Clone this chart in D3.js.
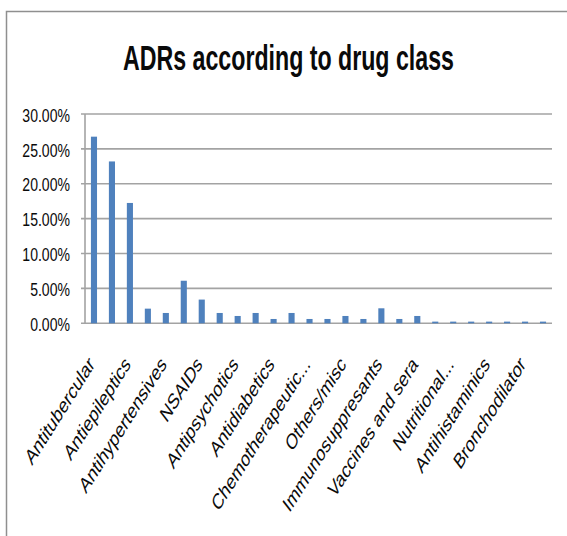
<!DOCTYPE html>
<html>
<head>
<meta charset="utf-8">
<script src="https://cdn.jsdelivr.net/npm/d3@7/dist/d3.min.js"></script>
<style>
  html, body { margin: 0; padding: 0; background: #fff; }
  svg { display: block; }
  text { font-family: "Liberation Sans", Arial, sans-serif; fill: #0a0a0a; }
</style>
</head>
<body>
<svg id="chart" width="567" height="536"></svg>
<script>
// Share of adverse drug reactions per drug class (fraction of all ADRs)
const adrShare = [
  0.2675, 0.2320, 0.1725, 0.0210, 0.0148, 0.0610, 0.0340, 0.0148, 0.0105,
  0.0148, 0.0062, 0.0148, 0.0062, 0.0062, 0.0105, 0.0062, 0.0215, 0.0062,
  0.0105, 0.0024, 0.0024, 0.0024, 0.0024, 0.0024, 0.0024, 0.0024
];

// Axis shows the name of every second class, starting with the first
const classLabels = [
  "Antitubercular", "Antiepileptics", "Antihypertensives", "NSAIDs",
  "Antipsychotics", "Antidiabetics", "Chemotherapeutic...", "Others/misc",
  "Immunosuppresants", "Vaccines and sera", "Nutritional...",
  "Antihistaminics", "Bronchodilator"
];

const yTicks = [0, 0.05, 0.10, 0.15, 0.20, 0.25, 0.30];
const titleText = "ADRs according to drug class";

const svg = d3.select("#chart");
const plot = { left: 85, right: 552, top: 114, bottom: 323.3 };

const x = d3.scaleBand()
  .domain(d3.range(adrShare.length))
  .range([plot.left, plot.right])
  .paddingInner(0.66)
  .paddingOuter(0.33);

const y = d3.scaleLinear()
  .domain([0, 0.30])
  .range([plot.bottom, plot.top]);

const gridColor = "#a3a3a3";

// outer frame (top and left edges)
svg.append("path")
  .attr("d", "M6.5,536V11.5H567")
  .attr("fill", "none")
  .attr("stroke", "#8f8f8f")
  .attr("stroke-width", 1.5);

// title, condensed horizontally to a fixed width
const titleWidth = 331;
const title = svg.append("text")
  .attr("text-anchor", "middle")
  .attr("font-size", 35)
  .attr("font-weight", "bold")
  .text(titleText);
const natural = title.node().getComputedTextLength();
title.attr("transform", `translate(288.5,70) scale(${titleWidth / natural},1)`);

// horizontal gridlines
svg.append("g")
  .selectAll("line")
  .data(yTicks)
  .join("line")
  .attr("x1", plot.left - 4)
  .attr("x2", plot.right)
  .attr("y1", d => y(d))
  .attr("y2", d => y(d))
  .attr("stroke", gridColor)
  .attr("stroke-width", 1.6);

// value axis line
svg.append("line")
  .attr("x1", plot.left).attr("x2", plot.left)
  .attr("y1", y(0.30)).attr("y2", y(0))
  .attr("stroke", gridColor)
  .attr("stroke-width", 1.6);

// value axis labels
const fmt = d3.format(".2%");
svg.append("g")
  .selectAll("text")
  .data(yTicks)
  .join("text")
  .attr("transform", d => `translate(70,${y(d) + 1}) scale(0.76,1)`)
  .attr("text-anchor", "end")
  .attr("dy", "0.36em")
  .attr("font-size", 18.5)
  .text(d => fmt(d));

// bars
svg.append("g")
  .selectAll("rect")
  .data(adrShare)
  .join("rect")
  .attr("x", (d, i) => x(i))
  .attr("width", x.bandwidth())
  .attr("y", d => y(d))
  .attr("height", d => y(0) - y(d))
  .attr("fill", "#4f81bd");

// category labels, slanted
svg.append("g")
  .selectAll("text")
  .data(classLabels)
  .join("text")
  .attr("transform", (d, k) => {
    const cx = x(k * 2) + x.bandwidth() / 2 + 1.5;
    return `translate(${cx},${y(0) + 42}) scale(0.7,1) rotate(-48)`;
  })
  .attr("text-anchor", "end")
  .attr("font-size", 22)
  .text(d => d);
</script>
</body>
</html>
